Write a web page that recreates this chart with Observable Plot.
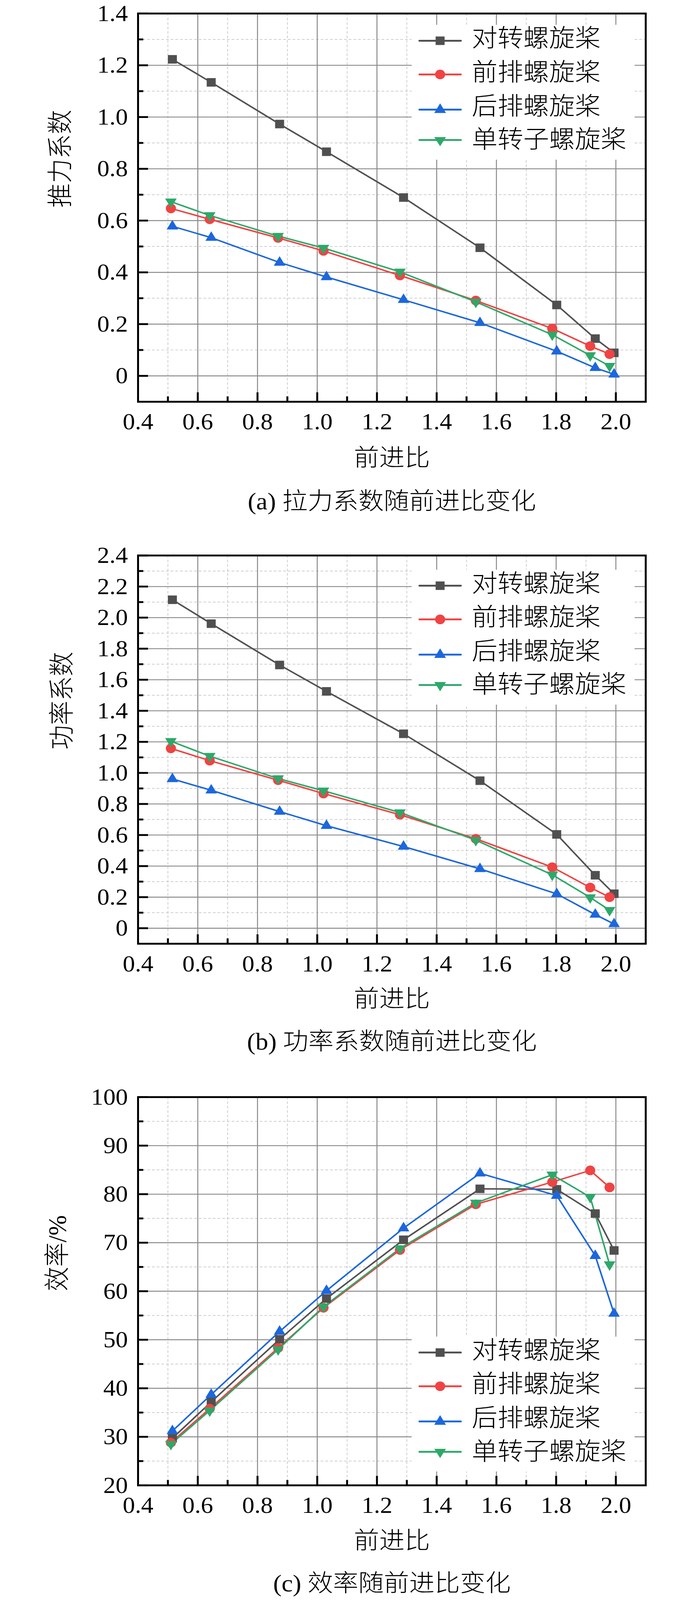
<!DOCTYPE html>
<html>
<head>
<meta charset="utf-8">
<script src="https://cdn.jsdelivr.net/npm/d3@7"></script>
<script src="https://cdn.jsdelivr.net/npm/@observablehq/plot@0.6"></script>
<style>
  html, body { margin: 0; padding: 0; background: #fff; overflow: hidden; }
  #wrap { position: relative; width: 1772px; height: 4319px; background: #fff; overflow: hidden; transform-origin: 0 0; }
  .panel { position: absolute; left: 0; }
  .legend { position: absolute; left: 1054px; width: 571px; height: 364px; background: #fff; }
  .legend .lab { position: absolute; left: 154px; height: 100px; line-height: 100px; font-size: 66px; font-weight: 300;
    font-family: "Liberation Serif", "Noto Sans CJK SC", serif; color: #000; white-space: nowrap; }
  .legend svg { position: absolute; left: 17px; }
</style>
</head>
<body>
<div id="wrap"></div>
<script>
// ---------- data ----------
const seriesNames = ["对转螺旋桨", "前排螺旋桨", "后排螺旋桨", "单转子螺旋桨"];
const seriesColors = ["#505050", "#f04343", "#1c67dc", "#2ea86a"];

// advance ratio (x) positions
const jBlackBlue = [0.515, 0.645, 0.874, 1.031, 1.289, 1.545, 1.802, 1.931, 1.994];
const jRedGreen  = [0.510, 0.640, 0.869, 1.021, 1.277, 1.531, 1.787, 1.914, 1.979];

// (a) thrust coefficient
const thrustBlack = [1.223, 1.134, 0.973, 0.866, 0.689, 0.495, 0.274, 0.144, 0.089];
const thrustRed   = [0.647, 0.605, 0.533, 0.483, 0.388, 0.291, 0.183, 0.115, 0.084];
const thrustBlue  = [0.578, 0.534, 0.438, 0.382, 0.294, 0.205, 0.095, 0.031, 0.006];
const thrustGreen = [0.673, 0.620, 0.540, 0.494, 0.402, 0.286, 0.159, 0.079, 0.038];

// (b) power coefficient
const powerBlack = [2.115, 1.961, 1.695, 1.525, 1.252, 0.950, 0.604, 0.341, 0.222];
const powerRed   = [1.158, 1.079, 0.953, 0.867, 0.731, 0.576, 0.393, 0.262, 0.200];
const powerBlue  = [0.961, 0.888, 0.751, 0.660, 0.526, 0.382, 0.221, 0.088, 0.027];
const powerGreen = [1.204, 1.108, 0.964, 0.885, 0.745, 0.567, 0.344, 0.198, 0.116];

// (c) efficiency %
const effBlack = [29.7, 37.2, 50.1, 58.5, 70.6, 81.1, 81.0, 76.0, 68.4];
const effRed   = [28.8, 35.8, 48.3, 56.6, 68.5, 77.9, 82.5, 84.9, 81.4];
const effBlue  = [31.2, 38.7, 51.7, 60.1, 73.0, 84.3, 79.7, 67.3, 55.4];
const effGreen = [28.5, 35.4, 48.0, 56.8, 68.8, 78.2, 84.0, 79.4, 65.5];

// ticks
const xMajor = [0.4, 0.6, 0.8, 1.0, 1.2, 1.4, 1.6, 1.8, 2.0];
const xMinor = [0.5, 0.7, 0.9, 1.1, 1.3, 1.5, 1.7, 1.9];
const yMajorA = [0, 0.2, 0.4, 0.6, 0.8, 1.0, 1.2, 1.4];
const yMinorA = [0.1, 0.3, 0.5, 0.7, 0.9, 1.1, 1.3];
const yMajorB = [0, 0.2, 0.4, 0.6, 0.8, 1.0, 1.2, 1.4, 1.6, 1.8, 2.0, 2.2, 2.4];
const yMinorB = [0.1, 0.3, 0.5, 0.7, 0.9, 1.1, 1.3, 1.5, 1.7, 1.9, 2.1, 2.3];
const yMajorC = [20, 30, 40, 50, 60, 70, 80, 90, 100];
const yMinorC = [25, 35, 45, 55, 65, 75, 85, 95];

// ---------- helpers ----------
const SQ3 = Math.sqrt(3);
const triangleDown = {
  draw(context, size) {
    const y = -Math.sqrt(size / (SQ3 * 3));
    context.moveTo(0, -y * 2);
    context.lineTo(-SQ3 * y, y);
    context.lineTo(SQ3 * y, y);
    context.closePath();
  }
};
const symbols = ["square", "circle", "triangle", triangleDown];
const radii = [13, 13, 11, 11];

function buildRows(seriesValues) {
  const rows = [];
  seriesValues.forEach((vals, i) => {
    const xs = (i === 0 || i === 2) ? jBlackBlue : jRedGreen;
    vals.forEach((v, k) => rows.push({x: xs[k], y: v, s: i}));
  });
  return rows;
}

const FONT = "'Liberation Serif', 'Noto Sans CJK SC', serif";
const W = 1772, ML = 353, MR = 119, FH = 1048, FW = W - ML - MR;

function makePanel(cfg) {
  const rows = buildRows(cfg.values);
  const marks = [
    Plot.ruleY(cfg.yMinor, {y: d => d, stroke: "#c8c8c8", strokeWidth: 1.8, strokeDasharray: "7,5"}),
    Plot.ruleX(xMinor, {x: d => d, stroke: "#c8c8c8", strokeWidth: 1.8, strokeDasharray: "7,5"}),
    Plot.ruleY(cfg.yMajor, {y: d => d, stroke: "#8a8a8a", strokeWidth: 2.5}),
    Plot.ruleX(xMajor, {x: d => d, stroke: "#8a8a8a", strokeWidth: 2.5})
  ];
  for (let i = 0; i < 4; i++) {
    const data = rows.filter(r => r.s === i);
    marks.push(Plot.line(data, {x: "x", y: "y", stroke: seriesColors[i], strokeWidth: 4}));
  }
  for (let i = 0; i < 4; i++) {
    const data = rows.filter(r => r.s === i);
    marks.push(Plot.dot(data, {x: "x", y: "y", fill: seriesColors[i], stroke: "none",
      symbol: symbols[i], r: radii[i]}));
  }
  marks.push(
    Plot.tickY(cfg.yMajor, {y: d => d, insetRight: FW - 26, stroke: "#000", strokeWidth: 5}),
    Plot.tickY(cfg.yMinor, {y: d => d, insetRight: FW - 14, stroke: "#000", strokeWidth: 5}),
    Plot.tickX(xMajor, {x: d => d, insetTop: FH - 25, stroke: "#000", strokeWidth: 5}),
    Plot.tickX(xMinor, {x: d => d, insetTop: FH - 14, stroke: "#000", strokeWidth: 5}),
    Plot.frame({stroke: "#000", strokeWidth: 5}),
    Plot.axisY({ticks: cfg.yMajor, tickSize: 0, tickPadding: 26, tickFormat: cfg.yFmt,
      fontSize: 63, fontFamily: FONT, label: null}),
    Plot.axisX({ticks: xMajor, tickSize: 0, tickPadding: 30, tickFormat: d => d.toFixed(1),
      fontSize: 63, fontFamily: FONT, label: null}),
    Plot.text([cfg.ylabel], {text: d => d, frameAnchor: "left", dx: cfg.ylabDx, rotate: -90,
      fontSize: 66, fontWeight: 300, fontFamily: FONT, lineAnchor: "middle", fill: "#000"}),
    Plot.text(["前进比"], {text: d => d, frameAnchor: "bottom", dy: cfg.titleDy,
      fontSize: 65, fontWeight: 300, fontFamily: FONT, lineAnchor: "middle", fill: "#000"}),
    Plot.text([cfg.caption], {text: d => d, frameAnchor: "bottom", dy: cfg.capDy,
      fontSize: 65, fontWeight: 300, fontFamily: FONT, lineAnchor: "middle", fill: "#000"})
  );
  const svg = Plot.plot({
    width: W,
    height: cfg.marginTop + FH + cfg.marginBottom,
    marginLeft: ML, marginRight: MR, marginTop: cfg.marginTop, marginBottom: cfg.marginBottom,
    x: {domain: [0.4, 2.1]},
    y: {domain: cfg.yDomain},
    style: {fontFamily: FONT, fontSize: "63px", background: "transparent", overflow: "visible", color: "#000"},
    marks
  });
  svg.classList.add("panel");
  svg.style.top = cfg.top + "px";
  return svg;
}

function makeLegend(top) {
  const div = document.createElement("div");
  div.className = "legend";
  div.style.top = top + "px";
  const textCenters = [41, 132, 224, 314];
  const lineCenters = [43, 134, 229, 311];
  const ns = "http://www.w3.org/2000/svg";
  seriesNames.forEach((name, i) => {
    const svg = document.createElementNS(ns, "svg");
    svg.setAttribute("width", 112); svg.setAttribute("height", 60);
    svg.style.top = (lineCenters[i] - 30) + "px";
    const ln = document.createElementNS(ns, "line");
    ln.setAttribute("x1", 3); ln.setAttribute("x2", 109); ln.setAttribute("y1", 30); ln.setAttribute("y2", 30);
    ln.setAttribute("stroke", seriesColors[i]); ln.setAttribute("stroke-width", 5); ln.setAttribute("stroke-linecap", "round");
    svg.appendChild(ln);
    let m;
    if (i === 0) {
      m = document.createElementNS(ns, "rect");
      m.setAttribute("x", 56 - 11.5); m.setAttribute("y", 30 - 11.5); m.setAttribute("width", 23); m.setAttribute("height", 23);
    } else if (i === 1) {
      m = document.createElementNS(ns, "circle");
      m.setAttribute("cx", 56); m.setAttribute("cy", 30); m.setAttribute("r", 13);
    } else if (i === 2) {
      m = document.createElementNS(ns, "polygon");
      m.setAttribute("points", "56,13 71,39 41,39");
    } else {
      m = document.createElementNS(ns, "polygon");
      m.setAttribute("points", "41,22 71,22 56,47");
    }
    m.setAttribute("fill", seriesColors[i]);
    svg.appendChild(m);
    div.appendChild(svg);
    const lab = document.createElement("div");
    lab.className = "lab";
    lab.style.top = (textCenters[i] - 54) + "px";
    lab.textContent = name;
    div.appendChild(lab);
  });
  return div;
}

const wrap = document.getElementById("wrap");
const fmtDec = d => d === 0 ? "0" : d.toFixed(1);

wrap.appendChild(makePanel({
  top: 3, marginTop: 33, marginBottom: 330,
  values: [thrustBlack, thrustRed, thrustBlue, thrustGreen],
  yDomain: [-0.1, 1.4], yMajor: yMajorA, yMinor: yMinorA, yFmt: fmtDec,
  ylabel: "推力系数", ylabDx: -198, caption: "(a) 拉力系数随前进比变化", titleDy: 153, capDy: 270
}));
wrap.appendChild(makePanel({
  top: 1459, marginTop: 40, marginBottom: 330,
  values: [powerBlack, powerRed, powerBlue, powerGreen],
  yDomain: [-0.1, 2.4], yMajor: yMajorB, yMinor: yMinorB, yFmt: fmtDec,
  ylabel: "功率系数", ylabDx: -194, caption: "(b) 功率系数随前进比变化", titleDy: 150, capDy: 265
}));
wrap.appendChild(makePanel({
  top: 2921, marginTop: 40, marginBottom: 300,
  values: [effBlack, effRed, effBlue, effGreen],
  yDomain: [20, 100], yMajor: yMajorC, yMinor: yMinorC, yFmt: d => String(d),
  ylabel: "效率/%", ylabDx: -206, caption: "(c) 效率随前进比变化", titleDy: 151, capDy: 266
}));
wrap.appendChild(makeLegend(67));
wrap.appendChild(makeLegend(1538));
wrap.appendChild(makeLegend(3608));

// The browser viewport may be shorter than the 4319px design height: squeeze vertically to fit.
const sy = Math.min(1, window.innerHeight / 4319);
if (sy < 1) wrap.style.transform = `scale(1, ${sy})`;
</script>
</body>
</html>
